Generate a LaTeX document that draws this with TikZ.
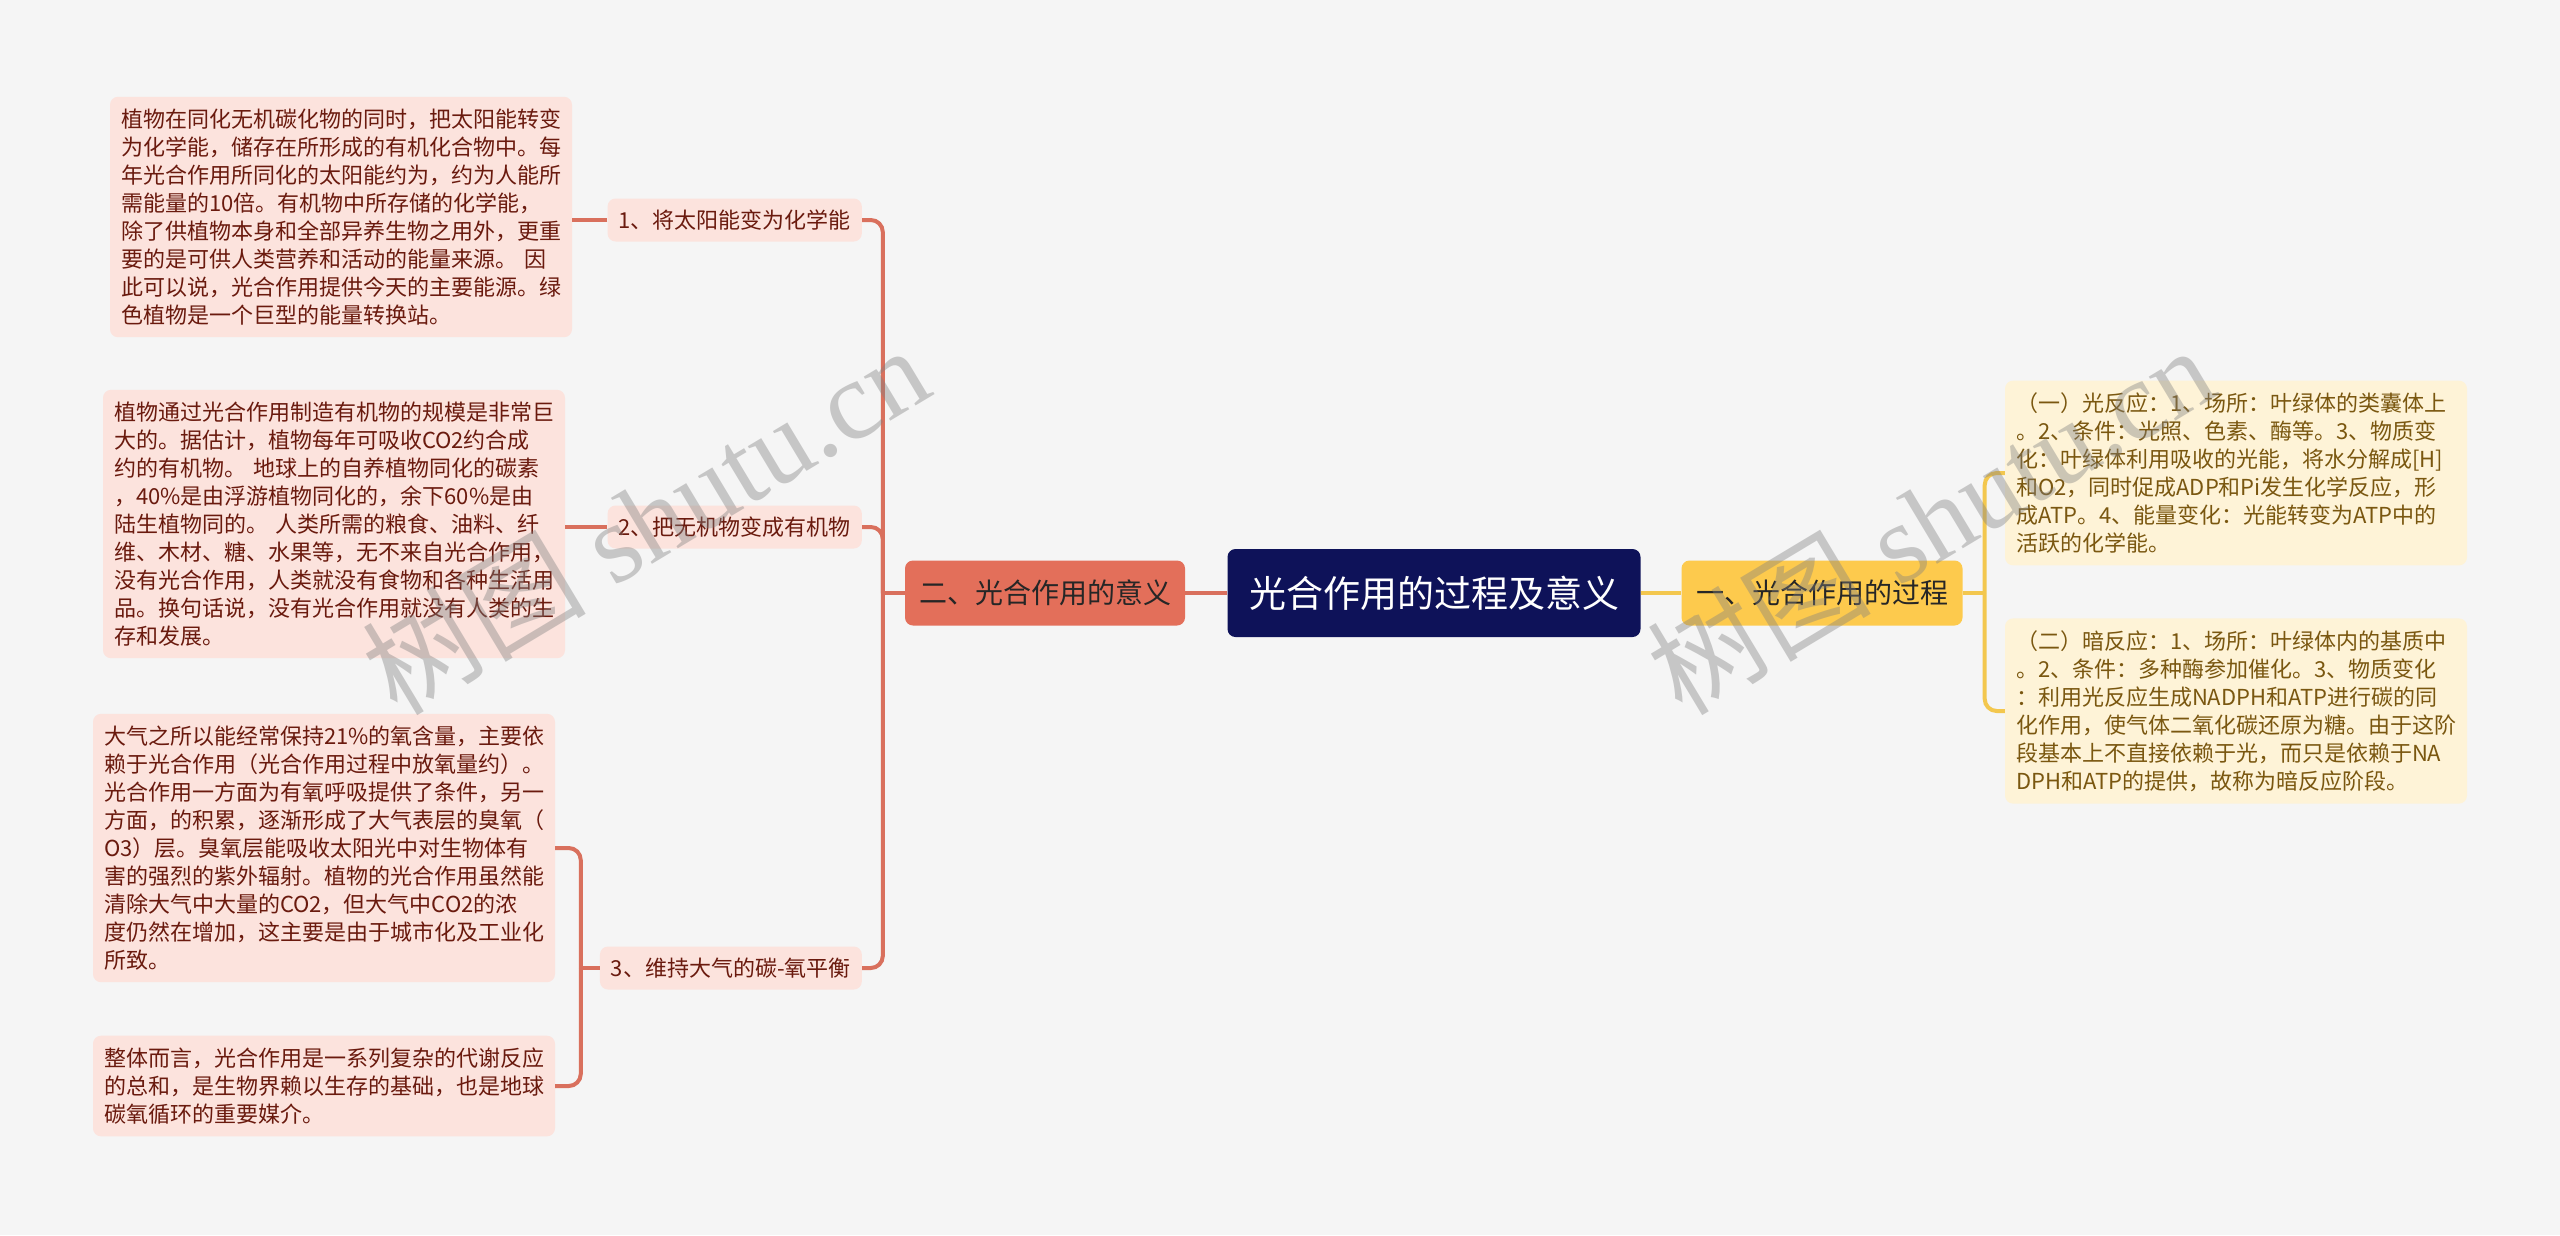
\documentclass[tikz,border=0pt]{standalone}
\usepackage{fontspec}
\setmainfont{Noto Sans CJK SC}
\newfontfamily\wmfont{Liberation Serif}
\usetikzlibrary{positioning}
\definecolor{bgcol}{HTML}{F5F5F5}
\definecolor{rootcol}{HTML}{0E1259}
\definecolor{redcol}{HTML}{E36F5A}
\definecolor{yelcol}{HTML}{FDCA4D}
\definecolor{pinkcol}{HTML}{FCE3DD}
\definecolor{creamcol}{HTML}{FEF3D7}
\definecolor{redtext}{HTML}{6A1A0E}
\definecolor{yeltext}{HTML}{7A5710}
\definecolor{redline}{HTML}{D9705D}
\definecolor{yelline}{HTML}{F3C74E}
\tikzset{
  box/.style={rounded corners=8pt, inner xsep=11pt, inner ysep=12pt},
  rootbox/.style={box, fill=rootcol, text=white, minimum width=413pt, minimum height=88pt,
    font=\fontsize{37}{44}\selectfont},
  branchL/.style={box, fill=redcol, text=black!85, minimum width=280pt, minimum height=65pt,
    font=\fontsize{28}{34}\selectfont},
  branchR/.style={box, fill=yelcol, text=black!85, minimum width=281pt, minimum height=65pt,
    font=\fontsize{28}{34}\selectfont},
  subL/.style={box, fill=pinkcol, text=redtext, minimum height=43pt, inner ysep=8pt,
    font=\fontsize{22}{28}\selectfont},
  leafL/.style={box, fill=pinkcol, text=redtext, text width=440pt, align=left,
    font=\fontsize{22}{28}\selectfont},
  leafR/.style={box, fill=creamcol, text=yeltext, text width=440pt, align=left,
    font=\fontsize{22}{28}\selectfont},
  linkL/.style={draw=redline, line width=4pt, rounded corners=12pt},
  linkR/.style={draw=yelline, line width=4pt, rounded corners=12pt},
  wmark/.style={text=gray, opacity=0.4, font=\wmfont\fontsize{112}{112}\selectfont}
}
\begin{document}
\begin{tikzpicture}[x=1pt, y=-1pt]
\fill[bgcol] (0,0) rectangle (2560,1235);
\useasboundingbox (0,0) rectangle (2560,1235);

% centre and main branches
\node[rootbox] (root) at (1434,593) {光合作用的过程及意义};
\node[branchL] (bL) at (1045,593) {二、光合作用的意义};
\node[branchR] (bR) at (1822,593) {一、光合作用的过程};

% left side
\node[subL, anchor=east] (s1) at (862,220) {1、将太阳能变为化学能};
\node[subL, anchor=east] (s2) at (862,527) {2、把无机物变成有机物};
\node[subL, anchor=east] (s3) at (862,968) {3、维持大气的碳-氧平衡};

\node[leafL] (l1) at (341,217) {植物在同化无机碳化物的同时，把太阳能转变\\
为化学能，储存在所形成的有机化合物中。每\\
年光合作用所同化的太阳能约为，约为人能所\\
需能量的10倍。有机物中所存储的化学能，\\
除了供植物本身和全部异养生物之用外，更重\\
要的是可供人类营养和活动的能量来源。 因\\
此可以说，光合作用提供今天的主要能源。绿\\
色植物是一个巨型的能量转换站。};
\node[leafL] (l2) at (334,524) {植物通过光合作用制造有机物的规模是非常巨\\
大的。据估计，植物每年可吸收CO2约合成\\
约的有机物。 地球上的自养植物同化的碳素\\
，40\%是由浮游植物同化的，余下60\%是由\\
陆生植物同的。 人类所需的粮食、油料、纤\\
维、木材、糖、水果等，无不来自光合作用，\\
没有光合作用，人类就没有食物和各种生活用\\
品。换句话说，没有光合作用就没有人类的生\\
存和发展。};
\node[leafL] (l3) at (324,848) {大气之所以能经常保持21\%的氧含量，主要依\\
赖于光合作用（光合作用过程中放氧量约）。\\
光合作用一方面为有氧呼吸提供了条件，另一\\
方面，的积累，逐渐形成了大气表层的臭氧（\\
O3）层。臭氧层能吸收太阳光中对生物体有\\
害的强烈的紫外辐射。植物的光合作用虽然能\\
清除大气中大量的CO2，但大气中CO2的浓\\
度仍然在增加，这主要是由于城市化及工业化\\
所致。};
\node[leafL] (l4) at (324,1086) {整体而言，光合作用是一系列复杂的代谢反应\\
的总和，是生物界赖以生存的基础，也是地球\\
碳氧循环的重要媒介。};

% right side
\node[leafR] (r1) at (2236,473) {（一）光反应：1、场所：叶绿体的类囊体上\\
。2、条件：光照、色素、酶等。3、物质变\\
化：叶绿体利用吸收的光能，将水分解成[H]\\
和O2，同时促成ADP和Pi发生化学反应，形\\
成ATP。4、能量变化：光能转变为ATP中的\\
活跃的化学能。};
\node[leafR] (r2) at (2236,711) {（二）暗反应：1、场所：叶绿体内的基质中\\
。2、条件：多种酶参加催化。3、物质变化\\
：利用光反应生成NADPH和ATP进行碳的同\\
化作用，使气体二氧化碳还原为糖。由于这阶\\
段基本上不直接依赖于光，而只是依赖于NA\\
DPH和ATP的提供，故称为暗反应阶段。};

% junctions
\coordinate[left=22pt of bL.west] (jL);
\coordinate[left=19pt of s3.west] (j3);
\coordinate[right=22pt of bR.east] (jR);

% connectors
\draw[linkL] (root.west) -- (bL.east);
\draw[linkL] (bL.west) -- (jL);
\draw[linkL] (jL) |- (s1.east);
\draw[linkL] (jL) |- (s2.east);
\draw[linkL] (jL) |- (s3.east);
\draw[linkL] (s1.west) -- (l1.east |- s1.west);
\draw[linkL] (s2.west) -- (l2.east |- s2.west);
\draw[linkL] (s3.west) -- (j3);
\draw[linkL] (j3) |- (l3.east);
\draw[linkL] (j3) |- (l4.east);
\draw[linkR] (root.east) -- (bR.west);
\draw[linkR] (bR.east) -- (jR);
\draw[linkR] (jR) |- (r1.west);
\draw[linkR] (jR) |- (r2.west);

% watermarks
\node[wmark, rotate=31] (wm1) at (645,519) {{\rmfamily 树图} shutu.cn};
\node[wmark, rotate=31] (wm2) at (1930,519) {{\rmfamily 树图} shutu.cn};
\end{tikzpicture}
\end{document}
